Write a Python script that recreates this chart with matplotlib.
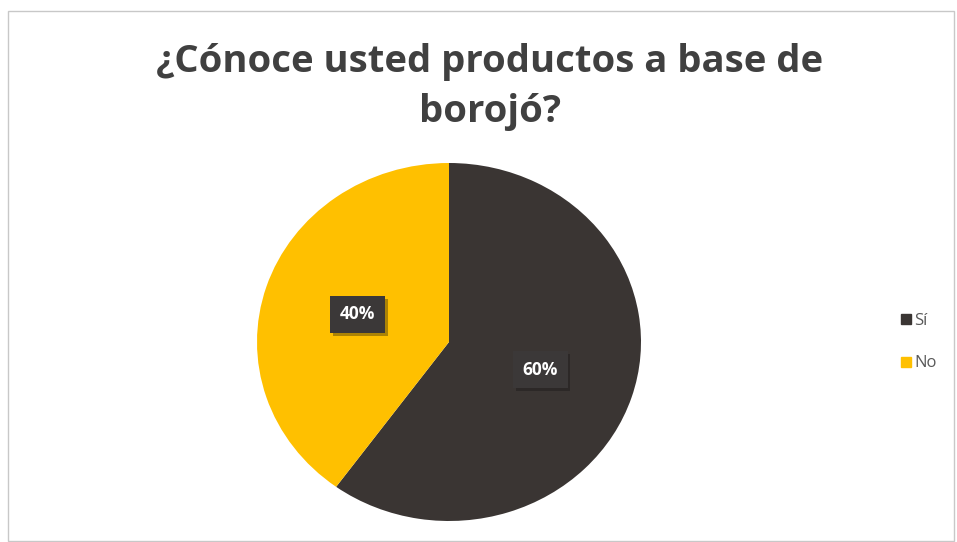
import matplotlib.pyplot as plt
import matplotlib.patheffects as pe
from matplotlib.patches import Rectangle
from matplotlib.lines import Line2D

labels = ['Sí', 'No']
values = [60, 40]
colors = ['#3a3533', '#ffc000']

W, H = 957, 542
fig = plt.figure(figsize=(W / 100, H / 100), dpi=100)
fig.patch.set_facecolor('white')

# chart frame
fig.add_artist(Rectangle((8 / W, 1 / H), 946 / W, (H - 12) / H,
                         transform=fig.transFigure, fill=False,
                         edgecolor='#c8c8c8', linewidth=1))

title_kw = dict(ha='center', va='center', fontsize=27.5, fontweight='bold',
                color='#404040', family='Open Sans')
fig.text(490 / W, 1 - 62 / H, '¿Cónoce usted productos a base de', **title_kw)
fig.text(490 / W, 1 - 112 / H, 'borojó?', **title_kw)

cx, cy, rx, ry = 449, 342, 192, 179
ax = fig.add_axes([(cx - rx) / W, (H - cy - ry) / H, 2 * rx / W, 2 * ry / H])
wedges, texts, autotexts = ax.pie(values, colors=colors, startangle=90,
                                  counterclock=False, autopct='%1.0f%%',
                                  pctdistance=0.5)
ax.set_aspect('auto')
ax.set_xlim(-1, 1)
ax.set_ylim(-1, 1)

for t in autotexts:
    t.set_color('white')
    t.set_fontsize(12.5)
    t.set_fontweight('bold')
    t.set_family('Open Sans')
    t.set_bbox(dict(boxstyle='square,pad=0.55', facecolor='#3b3838',
                    edgecolor='none'))
    t.get_bbox_patch().set_path_effects(
        [pe.SimplePatchShadow(offset=(2, -2), alpha=0.35), pe.Normal()])

handles = [Line2D([], [], marker='s', linestyle='none', markersize=7.5,
                  color=c) for c in colors]
fig.legend(handles, labels, loc='center left',
           bbox_to_anchor=(884 / W, 1 - 342 / H), frameon=False,
           labelcolor='#595959', handletextpad=0.1,
           handlelength=0.8, labelspacing=1.6,
           prop={'family': 'Open Sans', 'size': 12})

plt.savefig('out.png', dpi=100)
